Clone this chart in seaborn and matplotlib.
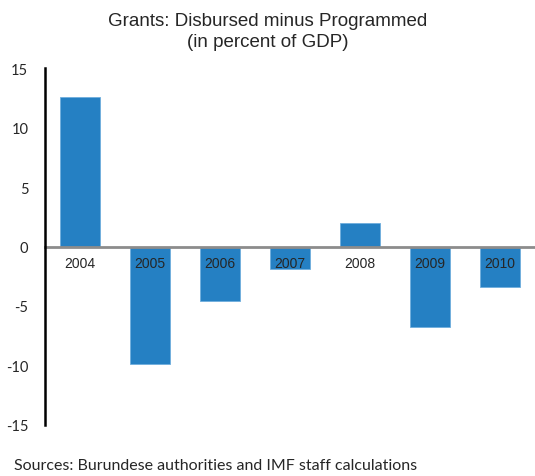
import matplotlib
matplotlib.use("Agg")
import matplotlib.pyplot as plt
import seaborn as sns
import pandas as pd

years = ["2004", "2005", "2006", "2007", "2008", "2009", "2010"]
values = [12.6, -9.9, -4.6, -1.9, 2.0, -6.8, -3.4]
yticks = [-15, -10, -5, 0, 5, 10, 15]

df = pd.DataFrame({"year": years, "value": values})

sns.set_style("white")
plt.rcParams["font.family"] = ["Liberation Sans", "DejaVu Sans"]
fig = plt.figure(figsize=(5.35, 4.77), dpi=100)
ax = fig.add_axes([45/535, 1-426/477, 1-45/535, (426-69)/477])

sns.barplot(data=df, x="year", y="value", color="#2580C3", saturation=1,
            width=0.56, ax=ax)
for p in ax.patches:
    p.set_edgecolor("#6FAEDD")
    p.set_linewidth(0.6)

ax.set_ylim(-15, 15)
ax.set_xlim(-0.5, 6.5)
ax.set_yticks(yticks)
ax.set_yticklabels([str(t) for t in yticks], fontfamily="Lato", fontsize=10.5)
ax.set_xticks(range(len(years)))
ax.set_xticklabels(years, fontfamily="Liberation Sans", fontsize=11.5)
ax.set_xlabel("")
ax.set_ylabel("")

for s in ["top", "right"]:
    ax.spines[s].set_visible(False)
ax.spines["bottom"].set_position(("data", 0))
ax.spines["bottom"].set_color("#8C8C8C")
ax.spines["bottom"].set_linewidth(2)
ax.spines["bottom"].set_zorder(2)
ax.spines["left"].set_color("black")
ax.spines["left"].set_linewidth(1.8)

ax.tick_params(axis="y", length=0, pad=12)
ax.tick_params(axis="x", length=0, pad=7)
ax.xaxis.set_zorder(5)

fig.text(0.5, 0.955, "Grants: Disbursed minus Programmed", ha="center", va="center",
         fontfamily="Liberation Sans", fontsize=13.5)
fig.text(0.5, 0.910, "(in percent of GDP)", ha="center", va="center",
         fontfamily="Liberation Sans", fontsize=13.5)
fig.text(14/535, 1-466/477, "Sources: Burundese authorities and IMF staff calculations",
         ha="left", va="center", fontfamily="Lato", fontsize=11.5)

fig.savefig("out.png", dpi=100)
